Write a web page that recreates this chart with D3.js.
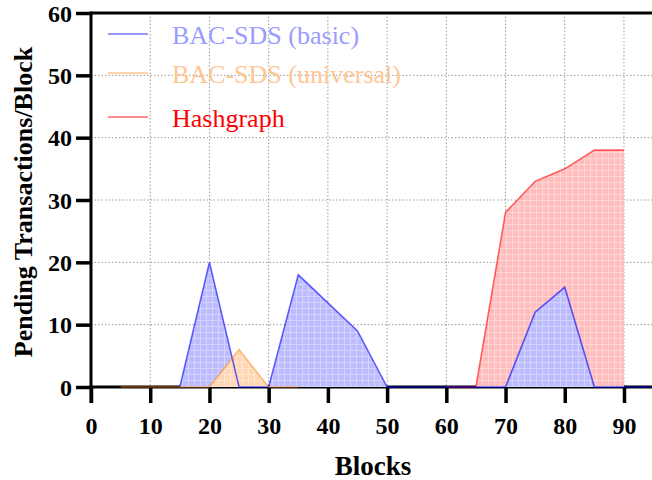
<!DOCTYPE html>
<html><head><meta charset="utf-8">
<script src="https://cdn.jsdelivr.net/npm/d3@7"></script>
<style>body{margin:0;background:#fff}svg{display:block}</style>
</head><body>
<svg id="c" width="652" height="480"></svg>
<script>
const basicX = [15, 20, 25, 30, 35, 40, 45, 50, 55, 60, 65, 70, 75, 80, 85, 90, 95];
const basicY = [0, 20, 0, 0, 18, 13.5, 9, 0, 0, 0, 0, 0, 12, 16, 0, 0, 0];
const univX = [5, 10, 15, 20, 25, 30, 35];
const univY = [0, 0, 0, 0, 6, 0, 0];
const hashX = [60, 65, 70, 75, 80, 85, 90];
const hashY = [0, 0, 28, 33, 35, 38, 38];
const xTicks = [0, 10, 20, 30, 40, 50, 60, 70, 80, 90];
const yTicks = [0, 10, 20, 30, 40, 50, 60];
const seriesNames = ["BAC-SDS (basic)", "BAC-SDS (universal)", "Hashgraph"];

const svg = d3.select("#c");
const L = 91, B = 387, T = 13;
const x = d3.scaleLinear().domain([0, 95]).range([L, L + 95 * 5.922]);
const y = d3.scaleLinear().domain([0, 60]).range([B, T]);

const defs = svg.append("defs");
function pat(id, base, line) {
  const p = defs.append("pattern").attr("id", id).attr("patternUnits", "userSpaceOnUse")
    .attr("width", 6).attr("height", 6);
  p.append("rect").attr("width", 6).attr("height", 6).attr("fill", base);
  p.append("rect").attr("x", 2).attr("width", 1).attr("height", 6).attr("fill", line);
  p.append("rect").attr("y", 2).attr("width", 6).attr("height", 1).attr("fill", line);
}
pat("pb", "#bcbcff", "#d4d4ff");
pat("po", "#ffd7b4", "#ffe6d0");
pat("pr", "#ffbcbc", "#ffd6d6");

// grid
const g = svg.append("g");
xTicks.filter(d => d > 0).forEach(d => {
  g.append("line").attr("x1", x(d)).attr("x2", x(d)).attr("y1", T).attr("y2", B)
    .attr("stroke", "#9a9a9a").attr("stroke-width", 1).attr("stroke-dasharray", "1.5,2");
});
yTicks.filter(d => d > 0 && d < 60).forEach(d => {
  g.append("line").attr("x1", L).attr("x2", 652).attr("y1", y(d)).attr("y2", y(d))
    .attr("stroke", "#9a9a9a").attr("stroke-width", 1).attr("stroke-dasharray", "1.5,2");
});

// axes
const xAxis = d3.axisBottom(x).tickValues(xTicks).tickSize(16).tickPadding(14).tickFormat(d3.format("d"));
const yAxis = d3.axisLeft(y).tickValues(yTicks).tickSize(15).tickPadding(4).tickFormat(d3.format("d"));
const gx = svg.append("g").attr("transform", `translate(0,${B})`).call(xAxis);
const gy = svg.append("g").attr("transform", `translate(${L},0)`).call(yAxis);
[gx, gy].forEach(a => {
  a.selectAll("path.domain").remove();
  a.selectAll(".tick line").attr("stroke", "#000").attr("stroke-width", 3.5);
  a.selectAll("text").attr("font-family", "Liberation Serif").attr("font-weight", "bold")
    .attr("fill", "#000").attr("font-size", 24);
});
gy.selectAll("text").attr("dy", "0.34em");
svg.append("line").attr("x1", L).attr("x2", 652).attr("y1", B).attr("y2", B).attr("stroke", "#000").attr("stroke-width", 3);
svg.append("line").attr("x1", L).attr("x2", L).attr("y1", T - 1.5).attr("y2", B + 16).attr("stroke", "#000").attr("stroke-width", 3);
svg.append("line").attr("x1", L).attr("x2", 652).attr("y1", T).attr("y2", T).attr("stroke", "#000").attr("stroke-width", 3);

// series
const series = [
  {xs: hashX, ys: hashY, pat: "pr", col: "rgba(255,0,0,0.6)"},
  {xs: basicX, ys: basicY, pat: "pb", col: "rgba(0,0,255,0.6)"},
  {xs: univX, ys: univY, pat: "po", col: "rgba(255,127,14,0.5)"}
];
const area = d3.area().x(d => x(d[0])).y0(y(0)).y1(d => y(d[1]));
const line = d3.line().x(d => x(d[0])).y(d => y(d[1]));
series.forEach(s => {
  const pts = s.xs.map((v, i) => [v, s.ys[i]]);
  svg.append("path").datum(pts).attr("d", area).attr("fill", `url(#${s.pat})`);
});
series.forEach(s => {
  const pts = s.xs.map((v, i) => [v, s.ys[i]]);
  svg.append("path").datum(pts).attr("d", line).attr("fill", "none")
    .attr("stroke", s.col).attr("stroke-width", 1.6);
});

// legend
const leg = [
  {name: seriesNames[0], y: 34, lc: "rgba(0,0,255,0.55)", tc: "#9a9aff"},
  {name: seriesNames[1], y: 73, lc: "rgba(255,127,14,0.45)", tc: "#ffc690"},
  {name: seriesNames[2], y: 117, lc: "rgba(255,0,0,0.6)", tc: "#ff0000"}
];
leg.forEach(l => {
  svg.append("line").attr("x1", 108).attr("x2", 148).attr("y1", l.y).attr("y2", l.y)
    .attr("stroke", l.lc).attr("stroke-width", 1.5);
  svg.append("text").attr("x", 172).attr("y", l.y + 10).text(l.name)
    .attr("font-family", "Liberation Serif").attr("font-size", 26).attr("fill", l.tc);
});

// axis titles
svg.append("text").attr("x", 373).attr("y", 475).attr("text-anchor", "middle").text("Blocks")
  .attr("font-family", "Liberation Serif").attr("font-weight", "bold").attr("font-size", 27);
svg.append("text").attr("transform", "translate(32,202) rotate(-90)").attr("text-anchor", "middle")
  .text("Pending Transactions/Block")
  .attr("font-family", "Liberation Serif").attr("font-weight", "bold").attr("font-size", 26);
</script>
</body></html>
